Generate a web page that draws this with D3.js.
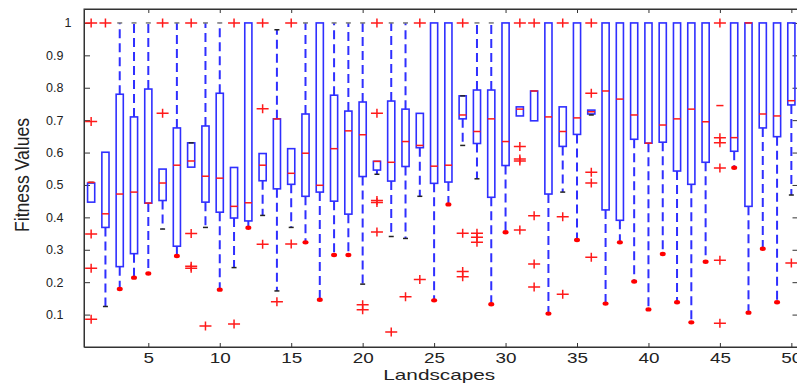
<!DOCTYPE html>
<html>
<head>
<meta charset="utf-8">
<script src="https://cdn.jsdelivr.net/npm/d3@7"></script>
<style>
  body { margin: 0; background: #fff; }
  text { font-family: "Liberation Sans", Arial, sans-serif; fill: #222; }
</style>
</head>
<body>
<div id="container"></div>
<script>
/* DATA */
const landscapes = d3.range(1, 51);
// lower whisker end (null = none)
const lowVals = [null,.125,.179,.214,.227,.364,.281,null,.369,.177,
  .245,.368,.406,.173,.369,.323,.146,.284,.284,.194,
  .533,.341,.335,.465,.144,.440,.622,.519,.132,.354,
  null,null,.103,.478,.330,.716,.134,.323,.202,.116,
  .287,.138,.076,.263,null,.553,.106,.303,.138,.469];
// how the lower whisker ends: "dot" (red) or "cap" (black)
const lowEnd = ["cap","cap","dot","dot","dot","cap","dot","cap","cap","dot",
  "cap","dot","cap","cap","cap","dot","dot","dot","dot","cap",
  "cap","cap","cap","cap","dot","dot","cap","cap","dot","dot",
  "cap","cap","dot","cap","dot","cap","dot","dot","dot","dot",
  "dot","dot","dot","dot","cap","dot","dot","dot","dot","cap"];
const q1Vals = [.447,.369,.248,.288,.444,.452,.311,.555,.447,.416,
  .398,.389,.513,.488,.502,.465,.478,.450,.410,.526,
  .546,.512,.557,.615,.505,.509,.704,.628,.462,.560,
  .713,.698,.472,.619,.656,.719,.423,.391,.641,.629,
  .632,.543,.502,.570,null,.604,.434,.676,.649,.747];
const medVals = [.508,.411,.472,.478,.444,.506,.561,.574,.527,.521,
  .434,.445,.561,.704,.536,.598,.499,.612,.667,.655,
  .573,.570,.634,.622,.558,.561,.716,.665,.704,.634,
  .734,.790,.710,.665,.707,.726,.790,.765,.716,.629,
  .685,.704,.734,.695,.745,.646,1,.719,.713,.760];
const q3Vals = [.506,.601,.780,.710,.796,.549,.676,.630,.682,.783,
  .554,1,.597,.704,.612,.719,1,.777,.728,.756,
  .573,.759,.734,.721,1,1,.775,.793,.793,1,
  .741,.790,1,.741,1,.731,1,1,1,1,
  1,1,1,1,null,1,1,1,1,1];
// upper whisker end (null = none)
const hiVals = [.508,null,1,1,1,null,1,.630,1,1,
  null,null,null,.979,null,1,null,1,1,1,
  null,1,1,null,null,null,.775,1,1,null,
  null,null,null,null,null,null,null,null,null,null,
  null,null,null,null,null,null,null,null,null,null];
const outliers = [
  [1,.696,.349,.243,.086],[1],[],[],[],[1,.721],[],[1,.350,.249,.243],[.065],[],
  [1,.071],[],[1,.735,.317],[.140],[1,.318],[],[],[],[],[.130,.115],
  [1,.721,.452,.446,.355],[.046],[.155],[1,.208],[],[],[1,.351,.233,.217],[.351,.339,.323],[],[],
  [1,.619,.580,.574,.361],[1,.405,.256,.185],[],[1,.402,.163],[],[1,.783,.539,.506,.277],[],[],[],[],
  [],[],[],[],[1,.646,.630,.552,.268,.073],[],[],[],[],[.259]
];
const yTicks = [.1,.2,.3,.4,.5,.6,.7,.8,.9,1];
const xTicks = [5,10,15,20,25,30,35,40,45,50];

const boxes = landscapes.map((k, i) => ({
  k, lo: lowVals[i], end: lowEnd[i], q1: q1Vals[i], med: medVals[i],
  q3: q3Vals[i], hi: hiVals[i]
}));
const outPts = [];
outliers.forEach((arr, i) => arr.forEach(v => outPts.push({k: i + 1, v})));

/* CONSTANTS */
const width = 797, height = 385;
const margin = {left: 84, right: 798.5, top: 9, bottom: 347};

const svg = d3.select("#container").append("svg")
  .attr("width", width).attr("height", height);

/* SCALES */
const x = d3.scaleLinear().domain([0.5, 50.5]).range([margin.left, margin.right]);
const y = d3.scaleLinear().domain([0, 1.043]).range([margin.bottom, margin.top]);
const bw = (x(2) - x(1)) * 0.5;

/* AXES */
const gx = svg.append("g").attr("transform", `translate(0,${margin.bottom})`)
  .call(d3.axisBottom(x).tickValues(xTicks).tickSizeInner(-4).tickSizeOuter(0).tickPadding(6));
gx.selectAll("text").style("font-size", "14px")
  .attr("textLength", d => d < 10 ? 10.5 : 21).attr("lengthAdjust", "spacingAndGlyphs");
svg.append("g").attr("transform", `translate(0,${margin.top})`)
  .call(d3.axisTop(x).tickValues(xTicks).tickSizeInner(-4).tickSizeOuter(0).tickFormat(""));
const gy = svg.append("g").attr("transform", `translate(${margin.left},0)`)
  .call(d3.axisLeft(y).tickValues(yTicks).tickSizeInner(-6).tickSizeOuter(0).tickPadding(20.5)
    .tickFormat(d => d === 1 ? "1" : d3.format(".1f")(d)));
gy.selectAll("text").style("font-size", "12.5px")
  .attr("x", d => d === 1 ? -12.5 : -20.5);
svg.append("g").attr("transform", `translate(${margin.right},0)`)
  .call(d3.axisRight(y).tickValues(yTicks).tickSizeInner(-6).tickSizeOuter(0).tickFormat(""));
svg.selectAll(".domain, .tick line").attr("stroke", "#333");

svg.append("rect")
  .attr("x", margin.left).attr("y", margin.top)
  .attr("width", margin.right - margin.left).attr("height", margin.bottom - margin.top)
  .attr("fill", "none").attr("stroke", "#333");

/* WHISKERS */
const blue = "#2f2fff";
svg.selectAll(".wlo").data(boxes.filter(d => d.lo !== null && d.q1 !== null && d.lo < d.q1))
  .join("line").attr("class", "wlo")
  .attr("x1", d => x(d.k)).attr("x2", d => x(d.k))
  .attr("y1", d => y(d.q1)).attr("y2", d => y(d.lo))
  .attr("stroke", blue).attr("stroke-width", 2).attr("stroke-dasharray", "9,5");
svg.selectAll(".whi").data(boxes.filter(d => d.hi !== null && d.hi > d.q3))
  .join("line").attr("class", "whi")
  .attr("x1", d => x(d.k)).attr("x2", d => x(d.k))
  .attr("y1", d => y(d.q3)).attr("y2", d => y(d.hi))
  .attr("stroke", blue).attr("stroke-width", 2).attr("stroke-dasharray", "9,5");

/* BOXES */
svg.selectAll(".box").data(boxes.filter(d => d.q1 !== null))
  .join("rect").attr("class", "box")
  .attr("x", d => x(d.k) - bw / 2).attr("width", bw)
  .attr("y", d => y(d.q3)).attr("height", d => Math.max(y(d.q1) - y(d.q3), 0.5))
  .attr("fill", "none").attr("stroke", blue).attr("stroke-width", 1.6);

/* CAPS */
const caps = [];
boxes.forEach(d => {
  if (d.lo !== null && d.end === "cap") caps.push({k: d.k, v: d.lo});
  if (d.hi !== null) caps.push({k: d.k, v: d.hi});
});
svg.selectAll(".cap").data(caps).join("line").attr("class", "cap")
  .attr("x1", d => x(d.k) - 2.5).attr("x2", d => x(d.k) + 2.5)
  .attr("y1", d => y(d.v)).attr("y2", d => y(d.v))
  .attr("stroke", d => d.v === 1 ? "#777" : "#222").attr("stroke-width", 1.5);

/* MEDIANS */
svg.selectAll(".med").data(boxes).join("line").attr("class", "med")
  .attr("x1", d => x(d.k) - bw / 2).attr("x2", d => x(d.k) + bw / 2)
  .attr("y1", d => y(d.med)).attr("y2", d => y(d.med))
  .attr("stroke", "#ff1a1a").attr("stroke-width", 1.5);

/* RED DOTS AT WHISKER ENDS */
svg.selectAll(".dot").data(boxes.filter(d => d.lo !== null && d.end === "dot"))
  .join("ellipse").attr("class", "dot")
  .attr("cx", d => x(d.k)).attr("cy", d => y(d.lo))
  .attr("rx", 3).attr("ry", 2.2).attr("fill", "#ff0000");

/* OUTLIERS */
svg.selectAll(".out").data(outPts).join("path").attr("class", "out")
  .attr("d", d => {
    const cx = x(d.k), cy = y(d.v);
    return `M${cx - 6},${cy}H${cx + 6}M${cx},${cy - 4.5}V${cy + 4.5}`;
  })
  .attr("stroke", "#ff1a1a").attr("stroke-width", 1.5).attr("fill", "none");

/* LABELS */
svg.append("text")
  .attr("x", (margin.left + margin.right) / 2 - 2).attr("y", 380)
  .attr("text-anchor", "middle").style("font-size", "15px")
  .attr("textLength", 112).attr("lengthAdjust", "spacingAndGlyphs")
  .text("Landscapes");
svg.append("text")
  .attr("transform", "translate(29,175) rotate(-90) scale(1,1.4)")
  .attr("text-anchor", "middle").style("font-size", "14px")
  .attr("textLength", 114).attr("lengthAdjust", "spacingAndGlyphs")
  .text("Fitness Values");
</script>
</body>
</html>
